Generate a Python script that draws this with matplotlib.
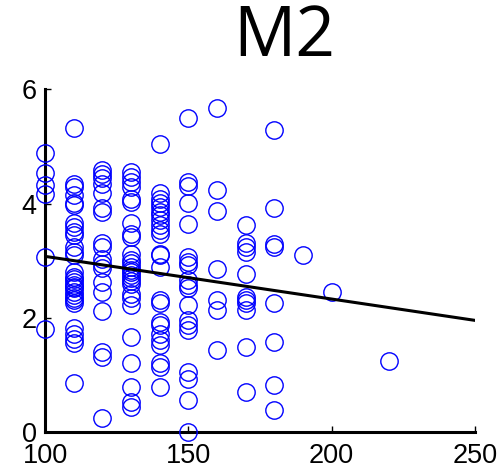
import matplotlib
matplotlib.use("Agg")
import matplotlib.pyplot as plt

# scatter values per x column
x100 = [4.88, 4.53, 4.33, 4.17, 3.07, 1.81]
x110 = [5.33, 4.34, 4.29, 4.15, 4.02, 3.98, 3.66, 3.60, 3.51, 3.45, 3.25, 3.16,
        3.10, 2.81, 2.72, 2.68, 2.63, 2.58, 2.55, 2.52, 2.46, 2.40, 2.35, 2.31,
        2.26, 1.82, 1.73, 1.64, 1.56, 0.86]
x120 = [4.59, 4.52, 4.45, 4.35, 4.18, 3.93, 3.86, 3.31, 3.25, 3.04, 2.95, 2.87,
        2.63, 2.46, 2.12, 1.40, 1.32, 0.25]
x130 = [4.56, 4.47, 4.38, 4.30, 4.09, 4.03, 3.66, 3.48, 3.42, 3.13, 3.01, 2.96,
        2.90, 2.85, 2.80, 2.75, 2.70, 2.65, 2.60, 2.43, 2.35, 2.23, 1.67, 1.21,
        0.80, 0.54, 0.45]
x140 = [5.04, 4.18, 4.09, 4.01, 3.95, 3.86, 3.80, 3.71, 3.63, 3.54, 3.48, 3.13,
        3.10, 2.90, 2.31, 2.26, 1.93, 1.88, 1.73, 1.61, 1.53, 1.21, 1.15, 0.80]
x150 = [5.50, 4.38, 4.31, 4.01, 3.64, 3.07, 2.98, 2.93, 2.66, 2.58, 2.52, 2.23,
        1.96, 1.88, 1.79, 1.06, 0.94, 0.56, 0.01]
x160 = [5.67, 4.24, 3.87, 2.86, 2.31, 2.14, 1.44]
x170 = [3.63, 3.32, 3.25, 3.16, 2.77, 2.37, 2.31, 2.26, 2.14, 1.50, 0.71]
x180 = [5.29, 3.93, 3.29, 3.25, 2.26, 1.58, 0.83, 0.40]
x190 = [3.11]
x200 = [2.46]
x220 = [1.25]

columns = {100: x100, 110: x110, 120: x120, 130: x130, 140: x140, 150: x150,
           160: x160, 170: x170, 180: x180, 190: x190, 200: x200, 220: x220}

# regression line end points
fit_x = [100, 250]
fit_y = [3.08, 1.96]

xs, ys = [], []
for k, v in columns.items():
    xs += [k] * len(v)
    ys += v

fig = plt.figure(figsize=(5.01, 4.71), dpi=100)
ax = fig.add_axes([0.09, 0.082, 0.858, 0.728])

ax.plot(xs, ys, "o", mfc="none", mec="#0000ff", ms=12.5, mew=1.0, clip_on=False, zorder=3)
ax.plot(fit_x, fit_y, color="black", lw=2.2, zorder=4)

ax.set_xlim(100, 250)
ax.set_ylim(0, 6)
ax.set_xticks([100, 150, 200, 250])
ax.set_yticks([0, 2, 4, 6])
for s in ["top", "right"]:
    ax.spines[s].set_visible(False)
for s in ["left", "bottom"]:
    ax.spines[s].set_linewidth(2.2)
ax.tick_params(direction="in", length=4, width=1, labelsize=19.5)
ax.tick_params(axis="x", pad=8)
ax.tick_params(axis="y", pad=6)
for lab in ax.get_xticklabels() + ax.get_yticklabels():
    lab.set_family("Liberation Sans")

fig.text(0.567, 0.92, "M2", fontsize=50, family="Open Sans", ha="center", va="center")

fig.savefig("out.png", dpi=100)
